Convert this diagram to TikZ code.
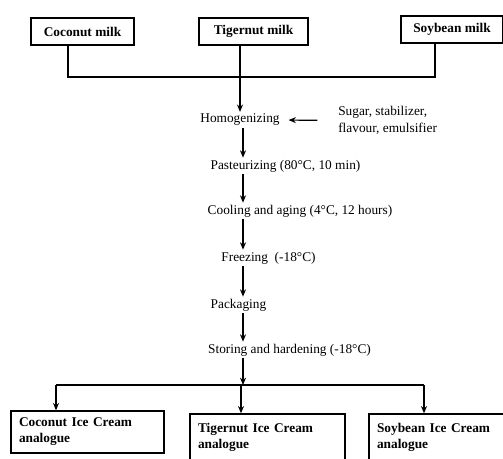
\documentclass[tikz,border=0pt]{standalone}
\usepackage{fontspec}
\setmainfont{Liberation Serif}
\usetikzlibrary{arrows.meta,positioning}

\tikzset{
  milkbox/.style={draw,line width=1pt,font=\fontsize{10}{12}\selectfont\bfseries,inner sep=0pt,minimum height=20.25pt},
  icebox/.style={draw,line width=1pt,font=\fontsize{10}{12}\selectfont\bfseries,align=left,inner xsep=6pt,inner ysep=0pt},
  steptext/.style={font=\fontsize{10}{12}\selectfont,inner sep=1.5pt},
  flow/.style={-{Stealth[length=5.5pt,width=4.5pt]},line width=0.9pt},
  link/.style={line width=0.9pt}
}

\begin{document}
\begin{tikzpicture}[x=0.75pt,y=0.75pt,yscale=-1,xscale=1]
\useasboundingbox (0,0) rectangle (503,459);

%Raw milk boxes
\node [milkbox,minimum width=77.25pt] (cmilk) at (82.5,31.5) {Coconut milk};
\node [milkbox,minimum width=81.75pt] (tmilk) at (253.5,31.5) {Tigernut milk};
\node [milkbox,minimum width=76.5pt] (smilk) at (452,29.5) {Soybean milk};

%Process steps
\node [steptext] (homog) at (240,120) {Homogenizing};
\node [steptext,align=left,anchor=west] (sugar) at (336,120.5) {Sugar, stabilizer,\\[0.75pt]flavour, emulsifier};
\node [steptext] (past) at (285.5,166) {Pasteurizing (80°C, 10 min)};
\node [steptext] (cool) at (300,211) {Cooling and aging (4°C, 12 hours)};
\node [steptext] (freeze) at (268.5,258) {Freezing\ \ (-18°C)};
\node [steptext] (pack) at (238.5,305) {Packaging};
\node [steptext] (store) at (289.5,350) {Storing and hardening (-18°C)};

%Ice cream boxes
\node [icebox,text width=102.75pt,minimum height=31.5pt] (cice) at (87.5,432) {Coconut Ice Cream\\analogue};
\node [icebox,text width=104.25pt,minimum height=35.25pt] (tice) at (267.5,437.5) {Tigernut Ice Cream\\analogue};
\node [icebox,text width=89.25pt,minimum height=35.25pt] (sice) at (436.5,437.5) {Soybean Ice Cream\\analogue};

%Joints
\coordinate (jl) at (68,77);
\coordinate (jr) at (435,77);
\coordinate (spine) at (243,0);
\coordinate (hub) at (243,385);
\coordinate (bl) at (56,385);
\coordinate (bm) at (241,385);
\coordinate (br) at (424,385);

%Connectors
\draw [link] (cmilk.south -| jl) -- (jl) -- (jr) -- (smilk.south -| jr);
\draw [flow] (tmilk.south -| homog) -- (homog.north);
\draw [flow,shorten <=14pt,shorten >=5pt] (sugar.west) -- (homog.east);
\draw [flow] (homog.south -| spine) -- (past.north -| spine);
\draw [flow] (past.south -| spine) -- (cool.north -| spine);
\draw [flow] (cool.south -| spine) -- (freeze.north -| spine);
\draw [flow] (freeze.south -| spine) -- (pack.north -| spine);
\draw [flow] (pack.south -| spine) -- (store.north -| spine);
\draw [flow] (store.south -| spine) -- (hub);
\draw [link] (bl) -- (br);
\draw [flow] (bl) -- (cice.north -| bl);
\draw [flow] (bm) -- (tice.north -| bm);
\draw [flow] (br) -- (sice.north -| br);

\end{tikzpicture}
\end{document}
